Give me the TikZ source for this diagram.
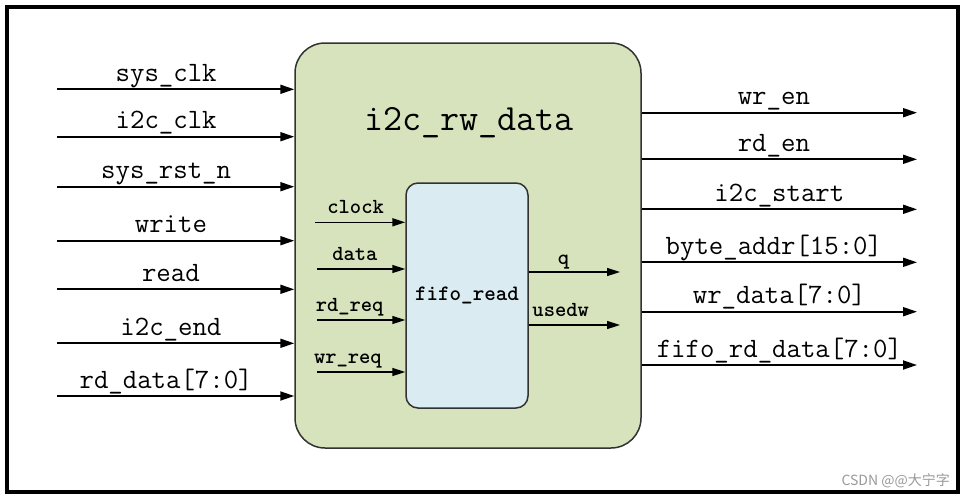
\documentclass[tikz,border=0pt]{standalone}
\usepackage{fontspec}
\newfontfamily\cjk{Noto Sans CJK SC}
\usetikzlibrary{arrows.meta}
\definecolor{mainfill}{RGB}{215,227,189}
\definecolor{fifofill}{RGB}{218,236,242}
\definecolor{edge}{RGB}{50,50,50}
\begin{document}
\begin{tikzpicture}[x=1pt,y=-1pt,
  frame/.style={draw=black,line width=3.5pt},
  block/.style={draw=edge,line width=1.5pt,rectangle,inner sep=0pt},
  arr/.style={line width=1.8pt,-{Triangle[length=14pt,width=9pt]}},
  iarr/.style={line width=1.5pt,-{Triangle[length=13pt,width=8pt]}},
  lbl/.style={anchor=base,yshift=8pt,inner sep=0pt,font=\fontsize{28}{30}\selectfont\ttfamily},
  ilbl/.style={anchor=base,yshift=9pt,inner sep=0pt,font=\fontsize{21.5}{24}\selectfont\ttfamily\bfseries},
  title/.style={anchor=base,inner sep=0pt,font=\fontsize{37}{40}\selectfont\ttfamily},
  wmark/.style={anchor=base east,inner sep=0pt,text=gray!80,font=\fontsize{14}{16}\selectfont\cjk}
]
\useasboundingbox (0,0) rectangle (967,498);
\draw[frame] (7,7) rectangle (958,492);

\node[block,rounded corners=30pt,fill=mainfill,minimum width=346pt,minimum height=405pt] (main) at (468,245.5) {};
\node[title] (ttl) at (469,130) {i2c\_rw\_data};
\node[block,rounded corners=12pt,fill=fifofill,minimum width=122pt,minimum height=225pt,
  font=\fontsize{22}{24}\selectfont\ttfamily\bfseries] (fifo) at (467,295.5) {fifo\_read};

% left inputs
\coordinate (l1) at (57,89.3);
\coordinate (l2) at (57,136.7);
\coordinate (l3) at (57,186.7);
\coordinate (l4) at (57,240.7);
\coordinate (l5) at (57,289.3);
\coordinate (l6) at (57,343.3);
\coordinate (l7) at (57,396);
\draw[arr] (l1) -- node[lbl,pos=0.46] (t1) {sys\_clk} (l1 -| main.west);
\draw[arr] (l2) -- node[lbl,pos=0.46] (t2) {i2c\_clk} (l2 -| main.west);
\draw[arr] (l3) -- node[lbl,pos=0.46] (t3) {sys\_rst\_n} (l3 -| main.west);
\draw[arr] (l4) -- node[lbl,pos=0.48] (t4) {write} (l4 -| main.west);
\draw[arr] (l5) -- node[lbl,pos=0.48] (t5) {read} (l5 -| main.west);
\draw[arr] (l6) -- node[lbl,pos=0.48] (t6) {i2c\_end} (l6 -| main.west);
\draw[arr] (l7) -- node[lbl,pos=0.46] (t7) {rd\_data[7:0]} (l7 -| main.west);

% right outputs
\coordinate (r1) at (917,112.7);
\coordinate (r2) at (917,159.3);
\coordinate (r3) at (917,209.3);
\coordinate (r4) at (917,262.3);
\coordinate (r5) at (917,311.7);
\coordinate (r6) at (917,365);
\draw[arr] (r1 -| main.east) -- node[lbl,pos=0.48] (u1) {wr\_en} (r1);
\draw[arr] (r2 -| main.east) -- node[lbl,pos=0.48] (u2) {rd\_en} (r2);
\draw[arr] (r3 -| main.east) -- node[lbl,pos=0.5] (u3) {i2c\_start} (r3);
\draw[arr] (r4 -| main.east) -- node[lbl,pos=0.48] (u4) {byte\_addr[15:0]} (r4);
\draw[arr] (r5 -| main.east) -- node[lbl,pos=0.5] (u5) {wr\_data[7:0]} (r5);
\draw[arr] (r6 -| main.east) -- node[lbl,pos=0.5] (u6) {fifo\_rd\_data[7:0]} (r6);

% fifo inputs
\coordinate (c1) at (315,222.3);
\coordinate (c2) at (317,269);
\coordinate (c3) at (317,320);
\coordinate (c4) at (317,372);
\draw[iarr] (c1) -- node[ilbl,pos=0.45] (v1) {clock} (c1 -| fifo.west);
\draw[iarr] (c2) -- node[ilbl,pos=0.43] (v2) {data} (c2 -| fifo.west);
\draw[iarr] (c3) -- node[ilbl,pos=0.37] (v3) {rd\_req} (c3 -| fifo.west);
\draw[iarr] (c4) -- node[ilbl,pos=0.35] (v4) {wr\_req} (c4 -| fifo.west);

% fifo outputs
\coordinate (o1) at (620,272);
\coordinate (o2) at (620,325);
\draw[iarr] (o1 -| fifo.east) -- node[ilbl,pos=0.38,yshift=-1pt] (w1) {q} (o1);
\draw[iarr] (o2 -| fifo.east) -- node[ilbl,pos=0.35] (w2) {usedw} (o2);

\node[wmark] (wm) at (950,485) {CSDN @@大宁字};
\end{tikzpicture}
\end{document}
